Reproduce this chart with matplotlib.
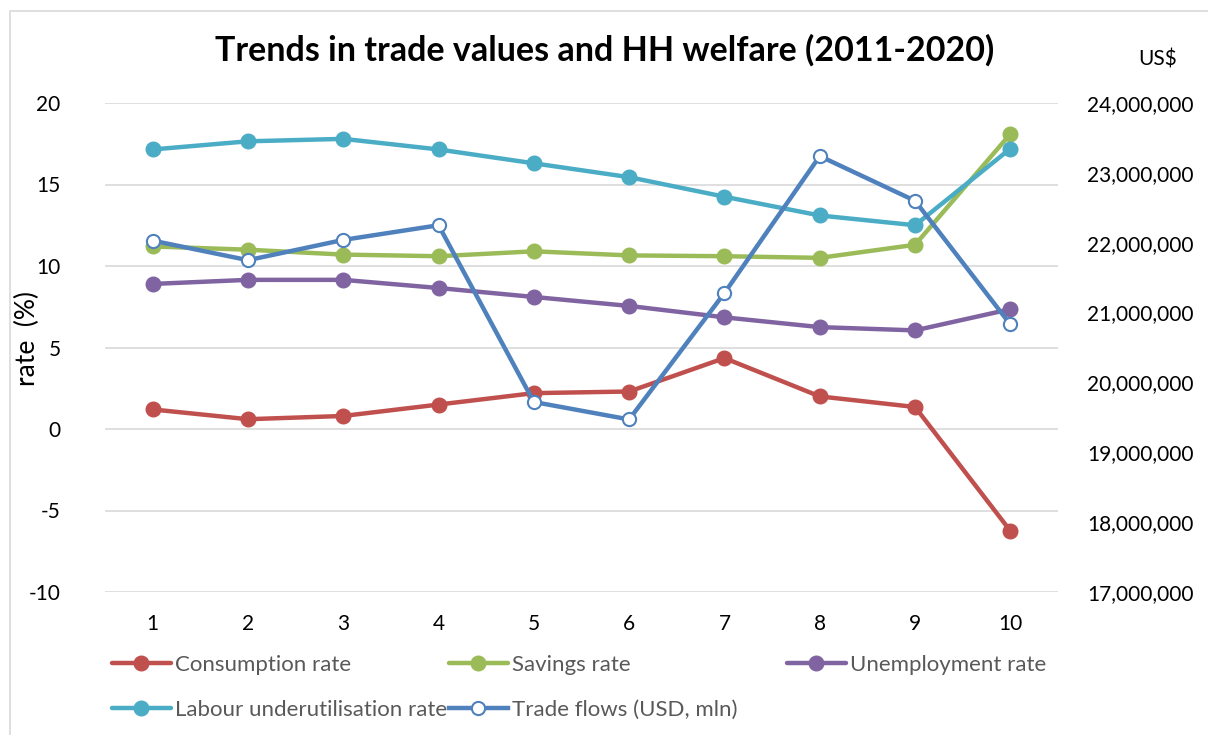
import numpy as np
import matplotlib.pyplot as plt
from matplotlib.patches import Rectangle
from matplotlib.ticker import FuncFormatter

plt.rcParams['font.family'] = ['Lato', 'DejaVu Sans']
plt.rcParams['axes.unicode_minus'] = False

years = list(range(1, 11))
consumption = [1.2, 0.6, 0.8, 1.5, 2.2, 2.3, 4.35, 2.0, 1.35, -6.25]
savings = [11.2, 11.0, 10.7, 10.6, 10.9, 10.65, 10.6, 10.5, 11.3, 18.1]
unemployment = [8.9, 9.15, 9.15, 8.65, 8.1, 7.55, 6.85, 6.25, 6.05, 7.35]
labour = [17.15, 17.65, 17.8, 17.15, 16.3, 15.45, 14.25, 13.1, 12.5, 17.2]
trade = [22030000, 21750000, 22040000, 22250000, 19720000,
         19470000, 21280000, 23240000, 22600000, 20830000]

W, H = 1208, 735
fig = plt.figure(figsize=(W / 100, H / 100), dpi=100)
ax = fig.add_axes([105 / W, 1 - 592 / H, (1058 - 105) / W, (592 - 103) / H])
ax2 = ax.twinx()

series = [
    ('Consumption rate', consumption, '#C0504D'),
    ('Savings rate', savings, '#9BBB59'),
    ('Unemployment rate', unemployment, '#8064A2'),
    ('Labour underutilisation rate', labour, '#4BACC6'),
]
handles = []
for name, vals, col in series:
    h, = ax.plot(years, vals, color=col, lw=3.2, marker='o', ms=10.5,
                 solid_capstyle='round', label=name)
    handles.append(h)

ht, = ax2.plot(years, trade, color='#4F81BD', lw=3.2, marker='o', ms=9.5,
               mfc='white', mec='#4F81BD', mew=1.5, label='Trade flows (USD, mln)')
handles.append(ht)

ax.set_xlim(0.5, 10.5)
ax.set_ylim(-10, 20)
ax.set_yticks(range(-10, 21, 5))
ax.set_xticks(years)
ax2.set_ylim(17e6, 24e6)
ax2.set_yticks(np.arange(17e6, 24.5e6, 1e6))
ax2.yaxis.set_major_formatter(FuncFormatter(lambda v, p: f'{v:,.0f}'))

ax.grid(axis='y', color='#D9D9D9', lw=1.2)
ax.set_axisbelow(True)
for a in (ax, ax2):
    for s in a.spines.values():
        s.set_visible(False)
ax.tick_params(axis='y', length=0, pad=32, labelsize=15)
ax.tick_params(axis='x', length=0, pad=16, labelsize=15)
ax2.tick_params(axis='y', length=0, pad=21, labelsize=15)

fig.text(605 / W, 1 - 50 / H, 'Trends in trade values and HH welfare (2011-2020)',
         fontsize=24.5, fontweight='bold', ha='center', va='center')
fig.text(27 / W, 1 - 339 / H, 'rate  (%)', rotation=90, fontsize=19,
         ha='center', va='center')
fig.text(1158 / W, 1 - 60 / H, 'US$', fontsize=15, ha='center', va='center')

# legend entries laid out like the Excel legend
spots = [(112, 665), (449, 665), (787, 665), (112, 710), (449, 710)]
for h, (px, py) in zip(handles, spots):
    fig.legend(handles=[h], loc='center left', bbox_to_anchor=(px / W, 1 - py / H),
               frameon=False, borderpad=0, borderaxespad=0, handlelength=2.64,
               handletextpad=0.2, fontsize=16, labelcolor='#595959')

fig.patches.append(Rectangle((10 / W, -0.01), 1.0, 1.01 - 11 / H,
                             transform=fig.transFigure, fill=False,
                             ec='#D9D9D9', lw=1.2))

plt.savefig('out.png', dpi=100)
